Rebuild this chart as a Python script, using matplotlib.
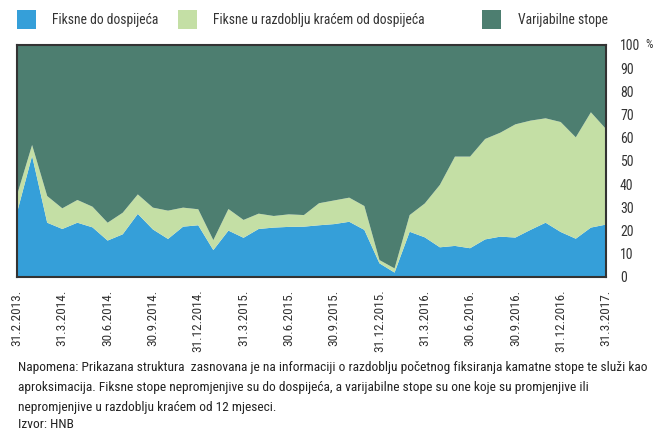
import matplotlib
matplotlib.use("Agg")
import matplotlib.pyplot as plt
from matplotlib import font_manager
from matplotlib.patches import Rectangle

names = {f.name for f in font_manager.fontManager.ttflist}
FONT = "DejaVu Sans"
for cand in ["Roboto Condensed", "Archivo Narrow", "Barlow Semi Condensed", "Asap Condensed"]:
    if cand in names:
        FONT = cand
        break
plt.rcParams['font.family'] = [FONT, 'DejaVu Sans']

tick_labels = ["31.2.2013.", "31.3.2014.", "30.6.2014.", "30.9.2014.", "31.12.2014.",
               "31.3.2015.", "30.6.2015.", "30.9.2015.", "31.12.2015.", "31.3.2016.",
               "30.6.2016.", "30.9.2016.", "31.12.2016.", "31.3.2017."]

fixed_to_maturity = [27.7, 52.2, 23.4, 20.7, 23.4, 21.4, 15.7, 18.4, 27.2, 20.5,
                     16.4, 21.7, 22.3, 11.6, 20.0, 16.9, 20.7, 21.3, 21.6, 21.7,
                     22.3, 22.8, 23.8, 20.3, 5.9, 1.9, 19.5, 17.1, 12.8, 13.4,
                     12.4, 16.2, 17.4, 17.0, 20.3, 23.4, 19.4, 16.5, 21.3, 22.6]
fixed_total = [35.3, 56.9, 34.9, 29.6, 33.2, 30.3, 23.4, 27.7, 35.6, 29.9,
               28.6, 29.9, 29.2, 15.9, 29.3, 24.6, 27.3, 26.3, 27.0, 26.7,
               31.8, 33.0, 34.2, 30.6, 7.3, 3.7, 26.7, 31.7, 39.7, 51.9,
               51.9, 59.5, 62.2, 65.8, 67.4, 68.4, 66.8, 60.2, 71.0, 63.8]
fixed_shorter = [t - a for t, a in zip(fixed_total, fixed_to_maturity)]
variable = [100 - t for t in fixed_total]

series_names = ["Fiksne do dospijeća", "Fiksne u razdoblju kraćem od dospijeća", "Varijabilne stope"]
colors = ["#359fd9", "#c4dfa5", "#4d7e70"]
note_lines = [
    "Napomena: Prikazana struktura  zasnovana je na informaciji o razdoblju početnog fiksiranja kamatne stope te služi kao",
    "aproksimacija. Fiksne stope nepromjenjive su do dospijeća, a varijabilne stope su one koje su promjenjive ili",
    "nepromjenjive u razdoblju kraćem od 12 mjeseci.",
    "Izvor: HNB",
]

W, H = 654, 433
fig = plt.figure(figsize=(W / 100, H / 100), dpi=100)
renderer = fig.canvas.get_renderer()


def fit_size(text, target_px, base=10.0):
    t = fig.text(0, 0, text, fontsize=base)
    w = t.get_window_extent(renderer=renderer).width
    t.remove()
    return base * target_px / w


legend_fs = fit_size(series_names[1], 212)
note_fs = fit_size(note_lines[0], 624)
xtick_fs = fit_size(tick_labels[0], 56)
ytick_fs = fit_size("100", 20)

ax = fig.add_axes([17 / W, 1 - 277 / H, (606 - 17) / W, (277 - 45) / H])

x = list(range(len(fixed_to_maturity)))
ax.stackplot(x, fixed_to_maturity, fixed_shorter, variable, colors=colors, linewidth=0)
ax.set_xlim(0, len(x) - 1)
ax.set_ylim(0, 100)

for s in ax.spines.values():
    s.set_color("#333333")
    s.set_linewidth(1.5)

TXT = "#333333"
ax.set_xticks(x[::3])
ax.set_xticklabels(tick_labels, rotation=90, fontsize=xtick_fs, color=TXT)
ax.yaxis.tick_right()
ax.set_yticks(range(0, 101, 10))
ax.set_yticklabels([str(v) for v in range(0, 101, 10)], fontsize=ytick_fs, color=TXT)
ax.tick_params(axis='x', length=0, pad=9)
ax.tick_params(axis='y', length=0, pad=10)
fig.text(645 / W, 1 - 44 / H, "%", fontsize=ytick_fs * 0.85, color=TXT, va="center", ha="left")

# legend
leg = [(17, 52), (178, 213), (482, 518)]
for (px, tx), name, c in zip(leg, series_names, colors):
    fig.patches.append(Rectangle((px / W, 1 - 29 / H), 19 / W, 19 / H, transform=fig.transFigure,
                                 facecolor=c, edgecolor="none"))
    fig.text(tx / W, 1 - 20 / H, name, fontsize=legend_fs, color=TXT, va="center", ha="left")

for yy, line in zip([368, 388, 407, 424], note_lines):
    fig.text(18 / W, 1 - yy / H, line, fontsize=note_fs, color="#222222", va="center", ha="left")

fig.savefig("out.png", dpi=100)
